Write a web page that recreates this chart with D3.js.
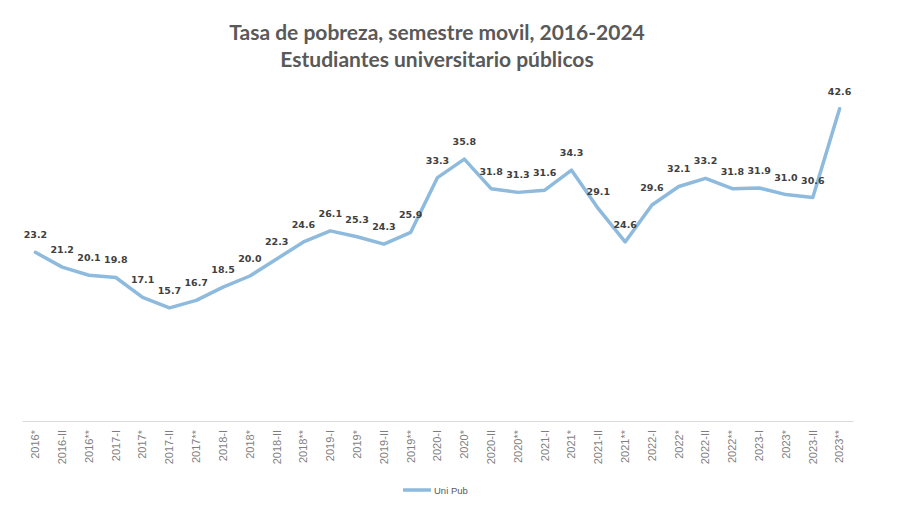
<!DOCTYPE html>
<html><head><meta charset="utf-8">
<script src="https://cdn.jsdelivr.net/npm/d3@7"></script>
<style>body{margin:0;background:#fff;}svg{display:block;}</style>
</head><body><svg id="c" width="900" height="510"></svg>
<script>
const categories = ["2016*","2016-II","2016**","2017-I","2017*","2017-II","2017**","2018-I","2018*","2018-II","2018**","2019-I","2019*","2019-II","2019**","2020-I","2020*","2020-II","2020**","2021-I","2021*","2021-II","2021**","2022-I","2022*","2022-II","2022**","2023-I","2023*","2023-II","2023**"];
const uniPub = [23.2,21.2,20.1,19.8,17.1,15.7,16.7,18.5,20.0,22.3,24.6,26.1,25.3,24.3,25.9,33.3,35.8,31.8,31.3,31.6,34.3,29.1,24.6,29.6,32.1,33.2,31.8,31.9,31.0,30.6,42.6];
const titleLines = ["Tasa de pobreza, semestre movil, 2016-2024","Estudiantes universitario públicos"];
const seriesName = "Uni Pub";

const svg = d3.select("#c");
const x = d3.scaleBand().domain(categories).range([22, 853]);
const y = d3.scaleLinear().domain([0, 45]).range([424, 91]);
const cx = d => x(d) + x.bandwidth()/2;

svg.append("g").selectAll("text").data(titleLines).join("text")
  .attr("x", 437).attr("y", (d,i)=>40 + i*27)
  .attr("text-anchor","middle").attr("font-family","Lato, 'Open Sans', sans-serif")
  .attr("font-weight","bold").attr("font-size",21).attr("fill","#595959").text(d=>d);

const xAxis = svg.append("g").attr("transform","translate(0,421)")
  .call(d3.axisBottom(x).tickSize(0).tickPadding(0));
xAxis.select(".domain").attr("stroke","#d9d9d9").attr("stroke-width",1.2);
xAxis.selectAll("text").attr("transform","rotate(-90)")
  .attr("x",-9).attr("y",0).attr("dy","0.35em")
  .attr("text-anchor","end").attr("font-family","'Liberation Sans', Arial, sans-serif")
  .attr("font-size",11).attr("fill","#7f7f7f");

const line = d3.line().x((d,i)=>cx(categories[i])).y(d=>y(d));
svg.append("path").datum(uniPub).attr("d",line).attr("fill","none")
  .attr("stroke","#8dbadd").attr("stroke-width",3.5).attr("stroke-linejoin","round").attr("stroke-linecap","round");

svg.append("g").selectAll("text").data(uniPub).join("text")
  .attr("x",(d,i)=>cx(categories[i])).attr("y",d=>y(d)-14)
  .attr("text-anchor","middle").attr("font-family","'DejaVu Sans', sans-serif")
  .attr("font-weight","bold").attr("font-size",9.5).attr("fill","#404040")
  .text(d=>d.toFixed(1));

const lg = svg.append("g");
lg.append("line").attr("x1",403).attr("x2",431).attr("y1",490).attr("y2",490)
  .attr("stroke","#8dbadd").attr("stroke-width",3.5);
lg.append("text").attr("x",434).attr("y",493.5).attr("font-family","'Liberation Sans', Arial, sans-serif")
  .attr("font-size",9.5).attr("fill","#595959").text(seriesName);
</script></body></html>
